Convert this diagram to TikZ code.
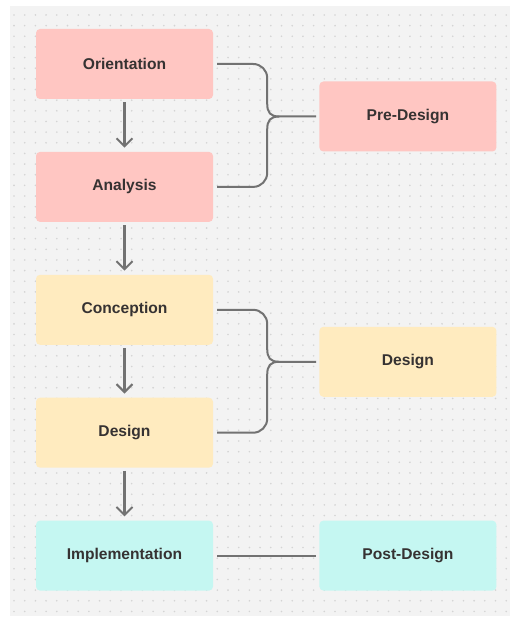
\documentclass[tikz,border=0pt]{standalone}
\usepackage{fontspec}
\setmainfont{Liberation Sans}
\usepackage{tikz}
\usetikzlibrary{arrows.meta,positioning}

\definecolor{bgc}{HTML}{F3F3F3}
\definecolor{dotc}{HTML}{D4D4D4}
\definecolor{pinkc}{HTML}{FFC6C2}
\definecolor{yelc}{HTML}{FFEBBF}
\definecolor{cyanc}{HTML}{C5F7F2}
\definecolor{linec}{HTML}{727272}
\definecolor{txtc}{HTML}{363232}

\begin{document}
\begin{tikzpicture}[x=1pt, y=-1pt, node distance=52.5pt and 106pt]

\tikzstyle{phase}=[rounded corners=4pt, minimum width=177pt, minimum height=70pt,
  inner sep=0pt, text=txtc, font=\fontsize{15.6}{18}\selectfont\bfseries]
\tikzstyle{arr}=[linec, line width=2.2pt, -{Straight Barb[length=8pt,width=16pt,line width=2pt]},
  shorten <=3pt, shorten >=4pt]
\tikzstyle{conn}=[linec, line width=2pt]

\useasboundingbox (0,0) rectangle (516,617);
\fill[bgc] (10,6) rectangle (510,616);
\foreach \i in {0,...,46}
  \foreach \j in {0,...,56}
    \fill[dotc] (14+\i*10.7, 15+\j*10.65) circle (0.9pt);

% left column
\node[phase, fill=pinkc] (c1) at (124.5,64) {Orientation};
\node[phase, fill=pinkc, below=of c1] (c2) {Analysis};
\node[phase, fill=yelc, below=of c2] (c3) {Conception};
\node[phase, fill=yelc, below=of c3] (c4) {Design};
\node[phase, fill=cyanc, below=of c4] (c5) {Implementation};

% right column
\node[phase, fill=pinkc, right=of c1, yshift=-52.5pt] (p1) {Pre-Design};
\node[phase, fill=yelc, right=of c3, yshift=-52pt] (p2) {Design};
\node[phase, fill=cyanc, right=of c5] (p3) {Post-Design};

\draw[arr] (c1) -- (c2);
\draw[arr] (c2) -- (c3);
\draw[arr] (c3) -- (c4);
\draw[arr] (c4) -- (c5);

% braces
\foreach \a/\b/\p in {c1/c2/p1, c3/c4/p2} {
  \coordinate (j) at ([xshift=-40pt]\p.west);
  \draw[conn] ([xshift=4pt]\a.east) -- ([xshift=-66pt]\p.west |- \a.east)
    arc[start angle=90, end angle=0, radius=14pt]
    -- ([xshift=-52pt, yshift=13pt]\p.west) .. controls +(0,9) and +(-9,0) .. (j)
    -- ([xshift=-3pt]\p.west);
  \draw[conn] ([xshift=4pt]\b.east) -- ([xshift=-66pt]\p.west |- \b.east)
    arc[start angle=-90, end angle=0, radius=14pt]
    -- ([xshift=-52pt, yshift=-13pt]\p.west) .. controls +(0,-9) and +(-9,0) .. (j);
}
\draw[conn] ([xshift=4pt]c5.east) -- ([xshift=-3pt]p3.west);

\end{tikzpicture}
\end{document}
